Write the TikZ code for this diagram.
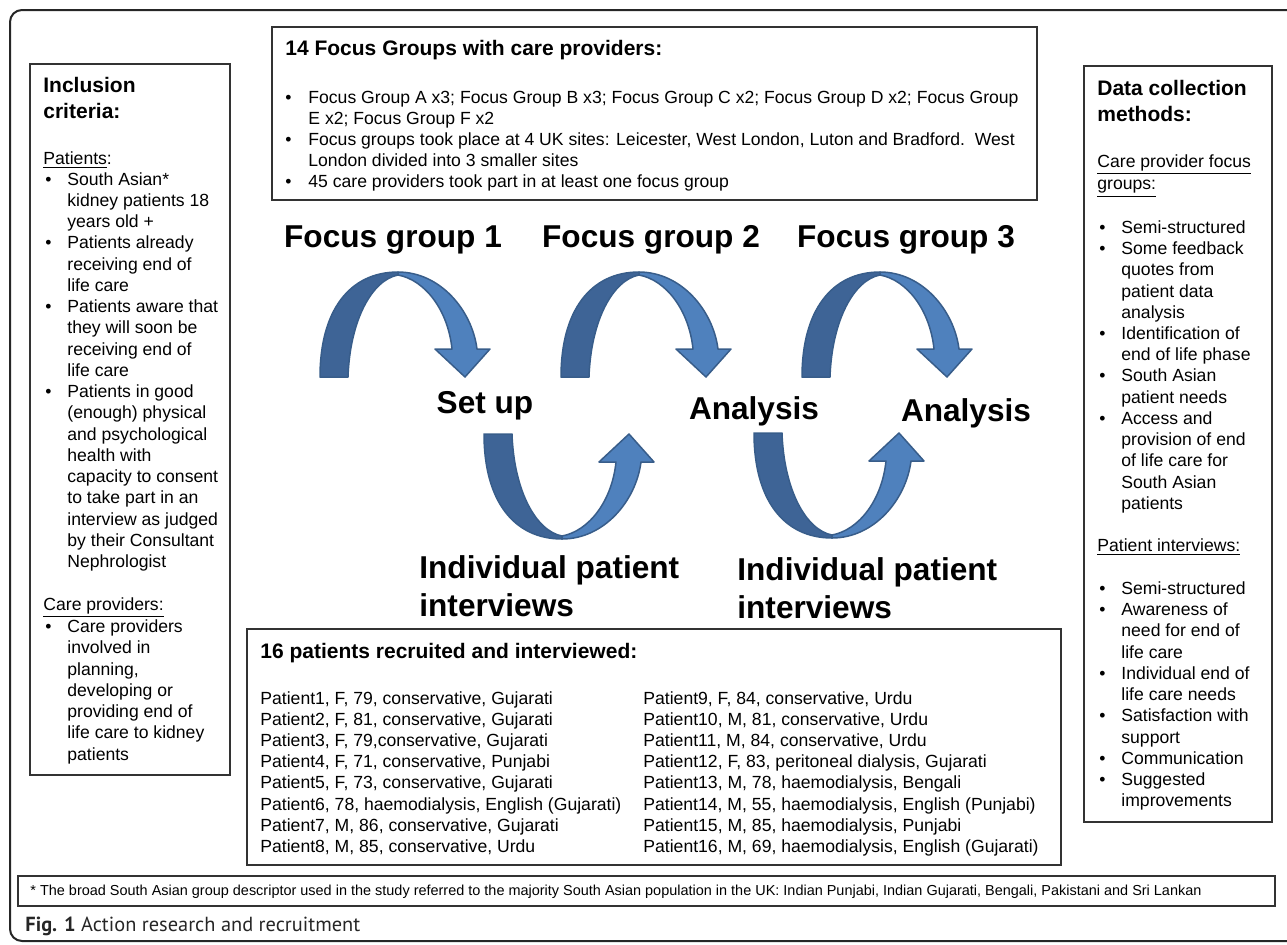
\documentclass[tikz,border=0pt]{standalone}
\usepackage{fontspec}
\setmainfont{Liberation Sans}
\newfontfamily\capfont{PT Sans}

\definecolor{arrdark}{RGB}{62,100,150}
\definecolor{arrlight}{RGB}{79,129,189}
\definecolor{arredge}{RGB}{56,93,138}

\newcommand{\bl}{\hspace{1pt}\textbullet}
\newcommand{\arcarrow}[3]{%
  \begin{scope}[shift={(#1,#2)}, yscale=#3]
    \filldraw[arrback] (-78,105) .. controls (-78,38) and (-48,0) .. (0,0) -- (0,3) .. controls (-26,8) and (-48,48) .. (-50,105) -- cycle;
    \filldraw[arrfront] (0,0) .. controls (42,0) and (74,38) .. (79,77) -- (92,77) -- (67,105) -- (37,77) -- (54,77) .. controls (50,38) and (27,8) .. (0,3) -- cycle;
  \end{scope}}

\begin{document}
\begin{tikzpicture}[x=0.5pt, y=-0.5pt,
    box/.style={draw=black!80, line width=0.75pt},
    txt/.style={anchor=base west, inner sep=0pt, font=\fontsize{8.8}{10.62}\selectfont},
    ttl/.style={anchor=base west, inner sep=0pt, font=\fontsize{10.5}{13}\selectfont\bfseries},
    big/.style={anchor=base, inner sep=0pt, font=\fontsize{15.8}{19}\selectfont\bfseries},
    arrback/.style={fill=arrdark, draw=arredge, line width=0.75pt, line join=round},
    arrfront/.style={fill=arrlight, draw=arredge, line width=0.75pt, line join=round}]
  \clip (0,0) rectangle (1287,944);
  % outer frame
  \draw[line width=1pt, black!85, rounded corners=6pt] (10,10) rectangle (1320,941);

  % boxes
  \draw[box] (30,64) rectangle (230,775);
  \draw[box] (272,27) rectangle (1037,200);
  \draw[box] (1084,66) rectangle (1272,822);
  \draw[box] (247,629) rectangle (1061,865);
  \draw[box] (18,876) rectangle (1275,906);

  % inclusion criteria
  \node[ttl] (incltitle) at (43,92) {\begin{tabular}[t]{@{}l@{}}Inclusion\\criteria:\end{tabular}};
  \node[txt] (incl) at (43,164) {\begin{tabular}[t]{@{}p{12pt}@{}l@{}}
    \multicolumn{2}{@{}l@{}}{\underline{Patients}:}\\
    \bl & South Asian*\\
        & kidney patients 18\\
        & years old +\\
    \bl & Patients already\\
        & receiving end of\\
        & life care\\
    \bl & Patients aware that\\
        & they will soon be\\
        & receiving end of\\
        & life care\\
    \bl & Patients in good\\
        & (enough) physical\\
        & and psychological\\
        & health with\\
        & capacity to consent\\
        & to take part in an\\
        & interview as judged\\
        & by their Consultant\\
        & Nephrologist\\
    \multicolumn{2}{@{}l@{}}{}\\
    \multicolumn{2}{@{}l@{}}{\underline{Care providers:}}\\
    \bl & Care providers\\
        & involved in\\
        & planning,\\
        & developing or\\
        & providing end of\\
        & life care to kidney\\
        & patients
  \end{tabular}};

  % focus groups box
  \node[ttl] (fgtitle) at (285,55) {14 Focus Groups with care providers:};
  \node[txt] (fglist) at (285,103) {\begin{tabular}[t]{@{}p{11.5pt}@{}l@{}}
    \textbullet & Focus Group A x3; Focus Group B x3; Focus Group C x2; Focus Group D x2; Focus Group\\
                & E x2; Focus Group F x2\\
    \textbullet & Focus groups took place at 4 UK sites: Leicester, West London, Luton and Bradford.\ \ West\\
                & London divided into 3 smaller sites\\
    \textbullet & 45 care providers took part in at least one focus group
  \end{tabular}};

  % data collection methods
  \node[ttl] (dctitle) at (1097,95) {\begin{tabular}[t]{@{}l@{}}Data collection\\methods:\end{tabular}};
  \node[txt] (dc) at (1097,167) {\begin{tabular}[t]{@{}p{12pt}@{}l@{}}
    \multicolumn{2}{@{}l@{}}{\underline{Care provider focus}}\\
    \multicolumn{2}{@{}l@{}}{\underline{groups:}}\\
    \multicolumn{2}{@{}l@{}}{}\\
    \bl & Semi-structured\\
    \bl & Some feedback\\
        & quotes from\\
        & patient data\\
        & analysis\\
    \bl & Identification of\\
        & end of life phase\\
    \bl & South Asian\\
        & patient needs\\
    \bl & Access and\\
        & provision of end\\
        & of life care for\\
        & South Asian\\
        & patients\\
    \multicolumn{2}{@{}l@{}}{}\\
    \multicolumn{2}{@{}l@{}}{\underline{Patient interviews:}}\\
    \multicolumn{2}{@{}l@{}}{}\\
    \bl & Semi-structured\\
    \bl & Awareness of\\
        & need for end of\\
        & life care\\
    \bl & Individual end of\\
        & life care needs\\
    \bl & Satisfaction with\\
        & support\\
    \bl & Communication\\
    \bl & Suggested\\
        & improvements
  \end{tabular}};

  % patients box
  \node[ttl] (pttitle) at (260,658) {16 patients recruited and interviewed:};
  \node[txt] (ptlist) at (260,704) {\begin{tabular}[t]{@{}p{191.5pt}@{}l@{}}
    Patient1, F, 79, conservative, Gujarati & Patient9, F, 84, conservative, Urdu\\
    Patient2, F, 81, conservative, Gujarati & Patient10, M, 81, conservative, Urdu\\
    Patient3, F, 79,conservative, Gujarati & Patient11, M, 84, conservative, Urdu\\
    Patient4, F, 71, conservative, Punjabi & Patient12, F, 83, peritoneal dialysis, Gujarati\\
    Patient5, F, 73, conservative, Gujarati & Patient13, M, 78, haemodialysis, Bengali\\
    Patient6, 78, haemodialysis, English (Gujarati) & Patient14, M, 55, haemodialysis, English (Punjabi)\\
    Patient7, M, 86, conservative, Gujarati & Patient15, M, 85, haemodialysis, Punjabi\\
    Patient8, M, 85, conservative, Urdu & Patient16, M, 69, haemodialysis, English (Gujarati)
  \end{tabular}};

  % curved arrows
  \arcarrow{398}{272}{1}
  \arcarrow{639}{272}{1}
  \arcarrow{880}{272}{1}
  \arcarrow{562}{539}{-1}
  \arcarrow{832}{538}{-1}

  % stage labels
  \node[big] (fg1) at (393,247) {Focus group 1};
  \node[big] (fg2) at (651,247) {Focus group 2};
  \node[big] (fg3) at (906,247) {Focus group 3};
  \node[big] (setup) at (485,413) {Set up};
  \node[big] (ana1) at (754,419) {Analysis};
  \node[big] (ana2) at (966,421) {Analysis};
  \node[big, anchor=base west] (ind1) at (419,578) {\begin{tabular}[t]{@{}l@{}}Individual patient\\interviews\end{tabular}};
  \node[big, anchor=base west] (ind2) at (737,580) {\begin{tabular}[t]{@{}l@{}}Individual patient\\interviews\end{tabular}};

  % footnote and caption
  \node[anchor=base west, inner sep=0pt, font=\fontsize{7.23}{8}\selectfont] (note) at (30,895) {* The broad South Asian group descriptor used in the study referred to the majority South Asian population in the UK: Indian Punjabi, Indian Gujarati, Bengali, Pakistani and Sri Lankan};
  \node[anchor=base west, inner sep=0pt, font=\capfont\fontsize{10.2}{12}\selectfont, black!85] (caption) at (25,931) {\textbf{Fig. 1} Action research and recruitment};
\end{tikzpicture}
\end{document}
